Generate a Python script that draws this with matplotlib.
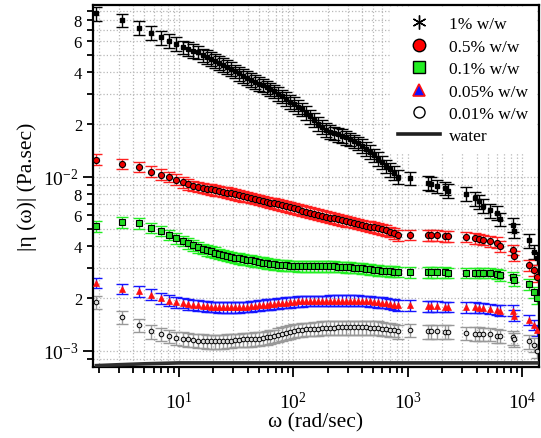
import numpy as np
import matplotlib
matplotlib.use("Agg")
import matplotlib.pyplot as plt
from matplotlib.ticker import LogLocator, FuncFormatter, NullFormatter
from matplotlib.lines import Line2D

plt.rcParams['font.family'] = 'serif'
plt.rcParams['font.serif'] = ['Liberation Serif', 'DejaVu Serif']
plt.rcParams['mathtext.fontset'] = 'stix'

# frequency (rad/sec): dense low-frequency part, then sparse high-frequency part
omega = [1.9, 3.2, 4.5, 5.7, 7.0, 8.2, 9.5, 10.8, 12.0, 13.3, 14.6,
         16.2, 17.6, 19.0, 20.6, 22.3, 24.2, 26.2, 28.4, 30.8, 33.3,
         36.1, 39.1, 42.4, 45.9, 49.7, 53.9, 58.4, 63.2, 68.5, 74.2,
         80.4, 87.1, 94.4, 102, 111, 120, 130, 141, 153, 165,
         179, 194, 211, 228, 247, 268, 290, 314, 341, 369,
         400, 433, 469, 508, 551, 597, 646, 700, 759, 822,
         1040, 1520, 1590, 1790, 2100, 2240, 3210, 3850, 4170, 4520,
         5200, 5990, 6360, 8260, 8430, 11400, 12600, 13400]

eta_1 = [0.0867, 0.0794, 0.0720, 0.0671, 0.0631, 0.0603, 0.0579, 0.0556, 0.0542, 0.0530, 0.0519,
         0.0500, 0.0488, 0.0476, 0.0464, 0.0452, 0.0440, 0.0428, 0.0416, 0.0404, 0.0392,
         0.0380, 0.0370, 0.0361, 0.0352, 0.0343, 0.0335, 0.0327, 0.0318, 0.0310, 0.0300,
         0.0290, 0.0280, 0.0270, 0.0262, 0.0253, 0.0244, 0.0233, 0.0222, 0.0212, 0.0202,
         0.0193, 0.0186, 0.0181, 0.0178, 0.0175, 0.0172, 0.0168, 0.0164, 0.0160, 0.0156,
         0.0151, 0.0145, 0.0139, 0.0133, 0.0127, 0.0121, 0.0115, 0.0110, 0.0105, 0.0100,
         0.0098, 0.0092, 0.0091, 0.0088, 0.0086, 0.0083, 0.0080, 0.0075, 0.0072, 0.0068,
         0.0064, 0.0062, 0.0057, 0.0053, 0.0049, 0.0043, 0.0037, 0.0034]

eta_05 = [0.01254, 0.01183, 0.01137, 0.01070, 0.01028, 0.01000, 0.00962, 0.00927, 0.00903, 0.00887, 0.00875,
          0.00862, 0.00853, 0.00845, 0.00837, 0.00828, 0.00819, 0.00810, 0.00801, 0.00792, 0.00783,
          0.00773, 0.00764, 0.00755, 0.00745, 0.00736, 0.00727, 0.00718, 0.00709, 0.00703, 0.00695,
          0.00687, 0.00678, 0.00668, 0.00658, 0.00648, 0.00639, 0.00630, 0.00622, 0.00614, 0.00606,
          0.00598, 0.00590, 0.00582, 0.00575, 0.00568, 0.00561, 0.00555, 0.00549, 0.00543, 0.00537,
          0.00530, 0.00523, 0.00517, 0.00511, 0.00505, 0.00498, 0.00491, 0.00483, 0.00472, 0.00460,
          0.00463, 0.00460, 0.00460, 0.00459, 0.00453, 0.00453, 0.00451, 0.00442, 0.00440, 0.00433,
          0.00424, 0.00418, 0.00398, 0.00380, 0.00350, 0.00310, 0.00290, 0.00265]

eta_01 = [0.00520, 0.00548, 0.00540, 0.00509, 0.00488, 0.00463, 0.00443, 0.00428, 0.00415, 0.00403, 0.00394,
          0.00385, 0.00378, 0.00372, 0.00366, 0.00360, 0.00355, 0.00350, 0.00346, 0.00342, 0.00339,
          0.00336, 0.00333, 0.00330, 0.00327, 0.00324, 0.00321, 0.00318, 0.00315, 0.00313, 0.00311,
          0.00310, 0.00309, 0.00308, 0.00307, 0.00306, 0.00306, 0.00306, 0.00306, 0.00306, 0.00306,
          0.00306, 0.00306, 0.00305, 0.00305, 0.00304, 0.00303, 0.00302, 0.00301, 0.00300, 0.00299,
          0.00298, 0.00296, 0.00294, 0.00292, 0.00290, 0.00288, 0.00287, 0.00286, 0.00285, 0.00284,
          0.00282, 0.00282, 0.00282, 0.00282, 0.00282, 0.00280, 0.00280, 0.00280, 0.00280, 0.00280,
          0.00280, 0.00276, 0.00272, 0.00265, 0.00254, 0.00240, 0.00217, 0.00200]

eta_005 = [0.00245, 0.00227, 0.00219, 0.00210, 0.00200, 0.00194, 0.00190, 0.00188, 0.00185, 0.00183, 0.00182,
           0.00181, 0.00180, 0.00179, 0.00179, 0.00178, 0.00178, 0.00178, 0.00178, 0.00178, 0.00178,
           0.00179, 0.00179, 0.00180, 0.00181, 0.00182, 0.00183, 0.00184, 0.00185, 0.00186, 0.00187,
           0.00188, 0.00189, 0.00190, 0.00191, 0.00192, 0.00192, 0.00193, 0.00193, 0.00193, 0.00193,
           0.00193, 0.00193, 0.00194, 0.00194, 0.00194, 0.00194, 0.00194, 0.00194, 0.00194, 0.00194,
           0.00193, 0.00193, 0.00192, 0.00191, 0.00190, 0.00189, 0.00188, 0.00186, 0.00184, 0.00182,
           0.00182, 0.00180, 0.00180, 0.00180, 0.00179, 0.00179, 0.00178, 0.00177, 0.00176, 0.00176,
           0.00174, 0.00172, 0.00170, 0.00170, 0.00159, 0.00150, 0.00141, 0.00131]

eta_001 = [0.00190, 0.00156, 0.00140, 0.00129, 0.00124, 0.00121, 0.00118, 0.00117, 0.00116, 0.00115, 0.00114,
           0.00114, 0.00113, 0.00113, 0.00113, 0.00113, 0.00113, 0.00114, 0.00114, 0.00115, 0.00115,
           0.00116, 0.00116, 0.00116, 0.00117, 0.00117, 0.00118, 0.00119, 0.00120, 0.00121, 0.00123,
           0.00125, 0.00127, 0.00128, 0.00130, 0.00131, 0.00132, 0.00133, 0.00133, 0.00134, 0.00134,
           0.00135, 0.00135, 0.00135, 0.00135, 0.00136, 0.00136, 0.00136, 0.00136, 0.00136, 0.00136,
           0.00136, 0.00136, 0.00135, 0.00135, 0.00135, 0.00134, 0.00133, 0.00132, 0.00131, 0.00129,
           0.00131, 0.00129, 0.00129, 0.00129, 0.00128, 0.00128, 0.00126, 0.00125, 0.00125, 0.00124,
           0.00124, 0.00122, 0.00121, 0.00119, 0.00116, 0.00113, 0.00108, 0.00100]

# relative error bars of each concentration
rel_err = {'1': 0.09, '05': 0.07, '01': 0.07, '005': 0.07, '001': 0.09}

water_omega = [1.9, 3.0, 5.0, 10.0, 13500]
water_eta = [0.00082, 0.00083, 0.00084, 0.00085, 0.00085]

fig = plt.figure(figsize=(5.41, 4.39), dpi=100)
ax = fig.add_axes([0.1719, 0.1617, 0.8244, 0.8246])

w = np.array(omega)
series = [
    (eta_1, rel_err['1'], 'k', dict(marker='s', ms=2.5, mfc='k', mec='k')),
    (eta_05, rel_err['05'], '#ff2020', dict(marker='o', ms=4.4, mfc='#ee0000', mec='k', mew=0.8)),
    (eta_01, rel_err['01'], '#22ee22', dict(marker='s', ms=4.2, mfc='#22dd22', mec='k', mew=0.8)),
    (eta_005, rel_err['005'], '#1515ff', dict(marker='^', ms=4.0, mfc='#ff1010', mec='#ff1010', mew=0.5)),
    (eta_001, rel_err['001'], '#999999', dict(marker='o', ms=3.3, mfc='#dddddd', mec='k', mew=0.7)),
]
for eta, rel, ecol, mk in series:
    y = np.array(eta)
    ax.errorbar(w, y, yerr=rel * y, fmt='none', ecolor=ecol, elinewidth=1.0,
                capsize=4.5, capthick=1.0, zorder=2)
    ax.plot(w, y, ls='none', zorder=3, **mk)

ax.plot(water_omega, water_eta, color='#303030', lw=2.6, zorder=3)

ax.set_xscale('log')
ax.set_yscale('log')
ax.set_xlim(1.775, 14070)
ax.set_ylim(0.000805, 0.097)

ax.xaxis.set_major_locator(LogLocator(base=10, numticks=10))
ax.xaxis.set_minor_locator(LogLocator(base=10, subs=np.arange(2, 10), numticks=20))
ax.xaxis.set_minor_formatter(NullFormatter())
ax.yaxis.set_major_locator(LogLocator(base=10, numticks=10))
ax.yaxis.set_minor_locator(LogLocator(base=10, subs=np.arange(2, 10), numticks=20))


def minor_label(v, pos):
    m = int(round(v / 10 ** np.floor(np.log10(v) + 1e-9)))
    return str(m) if m in (2, 4, 6, 8) else ''


ax.yaxis.set_minor_formatter(FuncFormatter(minor_label))

ax.grid(True, which='both', color='#b8b8b8', ls=':', lw=0.9)
ax.set_axisbelow(True)
for s in ax.spines.values():
    s.set_linewidth(1.6)
ax.tick_params(which='both', direction='out', width=1.3)
ax.tick_params(which='major', length=7, labelsize=14)
ax.tick_params(which='minor', length=4.5, labelsize=12)
ax.tick_params(axis='x', which='major', pad=10)

ax.set_xlabel('ω (rad/sec)', fontsize=15.5, labelpad=0)
ax.set_ylabel('|η (ω)| (Pa.sec)', fontsize=15.5, labelpad=4)

handles = [
    Line2D([], [], ls='none', marker=(6, 2, 0), ms=10, color='k', mew=1.0),
    Line2D([], [], ls='none', marker='o', ms=9, mfc='#ff0000', mec='k', mew=1.0),
    Line2D([], [], ls='none', marker='s', ms=8.5, mfc='#22ee22', mec='k', mew=1.0),
    Line2D([], [], ls='none', marker='^', ms=9, mfc='#1010ff', mec='#ff1010', mew=1.2),
    Line2D([], [], ls='none', marker='o', ms=8, mfc='white', mec='k', mew=1.0),
    Line2D([], [], color='#202020', lw=2.6),
]
labels = ['1% w/w', '0.5% w/w', '0.1% w/w', '0.05% w/w', '0.01% w/w', 'water']
leg = ax.legend(handles, labels, loc='upper right', fontsize=12.5, frameon=True,
                framealpha=1, facecolor='white', edgecolor='none', fancybox=False,
                borderaxespad=0.15, handlelength=2.4, handletextpad=0.5,
                labelspacing=0.36, borderpad=0.5)
leg.set_zorder(5)

fig.savefig('out.png', dpi=100)
